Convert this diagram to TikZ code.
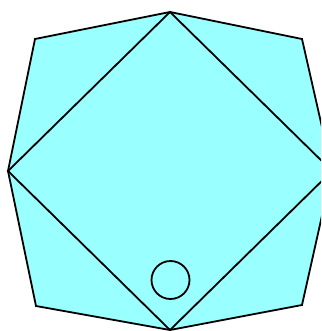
\documentclass[tikz,border=0pt]{standalone}
\definecolor{cyanfill}{HTML}{99FFFF}
\tikzset{edge/.style={draw=black,line width=1.8pt,line join=miter}}
\begin{document}
\begin{tikzpicture}[x=1pt,y=-1pt]
\useasboundingbox (0,0) rectangle (321,331);
\clip (0,0) rectangle (321,331);
\coordinate (T) at (170,12);
\coordinate (TR) at (302,39);
\coordinate (R) at (332,171);
\coordinate (BR) at (302,305);
\coordinate (B) at (170,330);
\coordinate (BL) at (36,306);
\coordinate (L) at (8,171);
\coordinate (TL) at (35,39);
\path[edge,fill=cyanfill] (T) -- (TR) -- (R) -- (BR) -- (B) -- (BL) -- (L) -- (TL) -- cycle;
\path[edge] (T) -- (R) -- (B) -- (L) -- cycle;
\node[edge,circle,minimum size=38pt,inner sep=0pt] (c) at (170.5,280) {};
\end{tikzpicture}
\end{document}
